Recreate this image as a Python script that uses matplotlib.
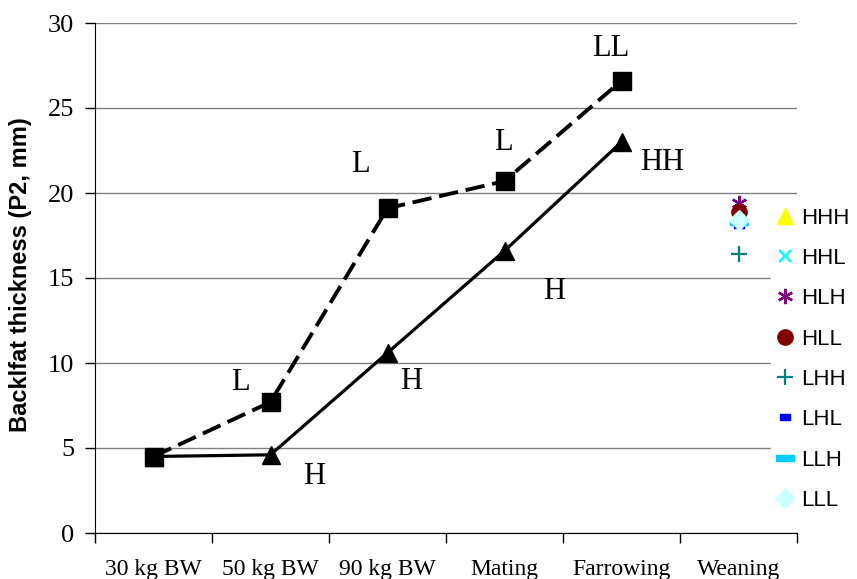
import matplotlib
matplotlib.use("Agg")
import matplotlib.pyplot as plt
from matplotlib.path import Path
import numpy as np

categories = ["30 kg BW", "50 kg BW", "90 kg BW", "Mating", "Farrowing", "Weaning"]
low_series = [4.5, 7.7, 19.1, 20.7, 26.6]
high_series = [4.5, 4.6, 10.6, 16.6, 23.0]

low_labels = ["", "L", "L", "L", "LL"]
high_labels = ["", "H", "H", "H", "HH"]

weaning_groups = ["HHH", "HHL", "HLH", "HLL", "LHH", "LHL", "LLH", "LLL"]
weaning_values = [18.7, 19.3, 19.4, 18.9, 16.4, 18.1, 18.3, 18.4]

serif = "Liberation Serif"
sans = "Liberation Sans"

fig = plt.figure(figsize=(8.57, 5.79), dpi=100)
ax = fig.add_axes([95/857, 1-533/579, (797-95)/857, (533-23)/579])

x = np.arange(len(low_series))
ax.plot(x, low_series, color="black", lw=2.8, ls=(0, (5, 2)), marker="s", ms=13,
        markerfacecolor="black", zorder=3)
ax.plot(x, high_series, color="black", lw=2.3, ls="-", marker="^", ms=13,
        markerfacecolor="black", zorder=3)

# annotation offsets relative to each point (data units)
low_offsets = [(0, 0), (-0.26, 1.18), (-0.23, 2.55), (-0.01, 2.3), (-0.09, 1.9)]
high_offsets = [(0, 0), (0.37, -1.3), (0.2, -1.66), (0.42, -2.4), (0.35, -1.2)]
for i, (lab, v) in enumerate(zip(low_labels, low_series)):
    if lab:
        dx, dy = low_offsets[i]
        ax.text(i + dx, v + dy, lab, family=serif, fontsize=22, ha="center", va="center")
for i, (lab, v) in enumerate(zip(high_labels, high_series)):
    if lab:
        dx, dy = high_offsets[i]
        ax.text(i + dx, v + dy, lab, family=serif, fontsize=22, ha="center", va="center")

# weaning markers
rect_small = Path([(-1, -0.55), (1, -0.55), (1, 0.55), (-1, 0.55), (-1, -0.55)],
                  [Path.MOVETO, Path.LINETO, Path.LINETO, Path.LINETO, Path.CLOSEPOLY])
rect_wide = Path([(-1, -0.3), (1, -0.3), (1, 0.3), (-1, 0.3), (-1, -0.3)],
                 [Path.MOVETO, Path.LINETO, Path.LINETO, Path.LINETO, Path.CLOSEPOLY])
styles = {
    "HHH": dict(marker="^", color="#FFFF00", ms=11),
    "HHL": dict(marker="x", color="#00FFFF", ms=9, mew=1.7),
    "HLH": dict(marker=(6, 2, 0), color="#800080", ms=11, mew=1.7),
    "HLL": dict(marker="o", color="#800000", ms=11),
    "LHH": dict(marker="+", color="#008080", ms=11, mew=1.6),
    "LHL": dict(marker=rect_small, color="#0000FF", ms=7),
    "LLH": dict(marker=rect_wide, color="#00CCFF", ms=13),
    "LLL": dict(marker="D", color="#CCFFFF", ms=10),
}
handles = []
wx = len(categories) - 1
for g, v in zip(weaning_groups, weaning_values):
    st = dict(styles[g])
    col = st.pop("color")
    h, = ax.plot([wx], [v], ls="none", color=col, markerfacecolor=col,
                 markeredgecolor=col, label=g, zorder=4, **st)
    handles.append(h)

ax.set_xlim(-0.5, len(categories) - 0.5)
ax.set_ylim(0, 30)
ax.set_yticks(np.arange(0, 31, 5))
ax.set_yticklabels([str(v) for v in range(0, 31, 5)], family=serif, fontsize=19)
ax.yaxis.grid(True, color="#808080", lw=1.0)
ax.set_axisbelow(True)

ax.set_xticks(np.arange(-0.5, len(categories), 1.0))
ax.set_xticklabels([])
ax.set_xticks(np.arange(len(categories)), minor=True)
ax.set_xticklabels(categories, minor=True, family=serif, fontsize=17)
ax.tick_params(axis="x", which="minor", length=0, pad=19)
ax.tick_params(axis="x", which="major", length=7, width=1, direction="out")
ax.tick_params(axis="y", length=7, width=1, direction="out", pad=8)

for s in ["top", "right"]:
    ax.spines[s].set_visible(False)
ax.spines["left"].set_color("black")
ax.spines["bottom"].set_color("black")

ax.set_ylabel("Backlfat thickness (P2, mm)", family=sans, fontweight="bold", fontsize=17)
ax.yaxis.set_label_coords(-0.09, 0.506)

leg = fig.legend(handles=handles, loc="upper left", bbox_to_anchor=(771/857, 1-202/579),
                 frameon=True, framealpha=1, edgecolor="white", facecolor="white",
                 prop={"family": sans, "size": 16}, handlelength=0.8, handletextpad=0.3,
                 labelspacing=0.87, borderpad=0.25, borderaxespad=0, fancybox=False)

fig.savefig("out.png", dpi=100)
